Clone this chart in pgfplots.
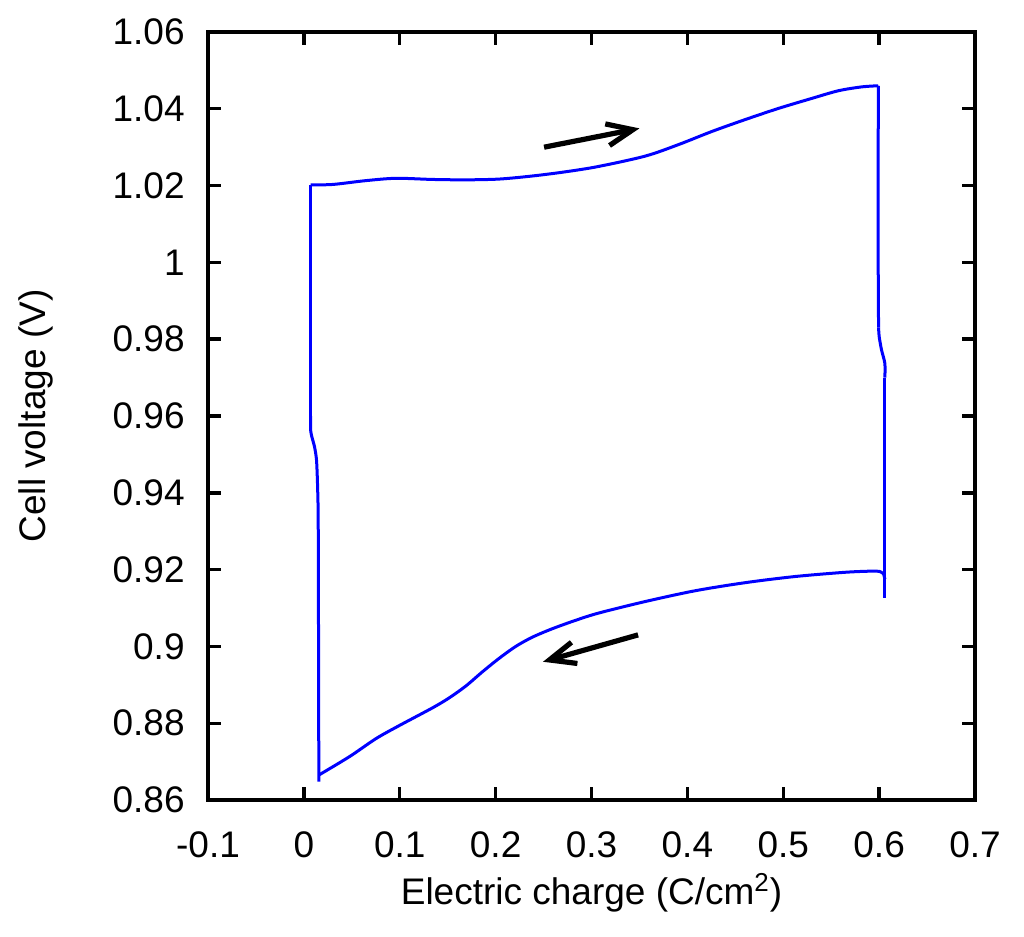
\documentclass[border=0pt]{standalone}
\usepackage{fontspec}
\setmainfont{Liberation Sans}
\usepackage{pgfplots}
\pgfplotsset{compat=1.18}
\usetikzlibrary{arrows.meta}
\begin{document}
\begin{tikzpicture}
\begin{axis}[
  name=ax,
  width=383.5pt, height=384pt, scale only axis,
  xmin=-0.1, xmax=0.7, ymin=0.86, ymax=1.06,
  xtick={-0.1,0,0.1,0.2,0.3,0.4,0.5,0.6,0.7},
  xticklabels={-0.1,0,0.1,0.2,0.3,0.4,0.5,0.6,0.7},
  ytick={0.86,0.88,0.9,0.92,0.94,0.96,0.98,1,1.02,1.04,1.06},
  yticklabels={0.86,0.88,0.9,0.92,0.94,0.96,0.98,1,1.02,1.04,1.06},
  tick align=inside, major tick length=6.5pt,
  axis line style={line width=1.7pt},
  every tick/.style={black, line width=1.7pt},
  font=\fontsize{18.5}{22}\selectfont,
  tick label style={font=\fontsize{18.5}{22}\selectfont},
  xticklabel style={anchor=center, yshift=-22.5pt},
  yticklabel style={anchor=east, inner sep=0pt, xshift=-11.5pt},
  xlabel={Electric charge (C/cm\textsuperscript{2})},
  ylabel={Cell voltage (V)},
  every axis x label/.style={at={(axis description cs:0.5,0)}, anchor=base, yshift=-52pt, font=\fontsize{18.5}{22}\selectfont},
  every axis y label/.style={at={(axis description cs:-0.2125,0.5)}, rotate=90, anchor=base, font=\fontsize{18.5}{22}\selectfont},
]
% left vertical (charge start)
\addplot[blue, line width=1.5pt, line join=round, smooth, tension=0.4] coordinates {
(0.0156,0.8648) (0.0150,0.9300) (0.0143,0.9416) (0.0132,0.9485) (0.0111,0.9520) (0.0083,0.9546) (0.0070,0.9564)
(0.0070,0.9600)
};
\addplot[blue, line width=1.5pt, line join=round] coordinates {(0.0070,0.9600) (0.0070,1.0202)};
% upper branch
\addplot[blue, line width=1.5pt, line join=round, smooth, tension=0.5] coordinates {
(0.0070,1.0202) (0.0302,1.0203) (0.0649,1.0213) (0.0962,1.0219) (0.1342,1.0216) (0.1690,1.0215)
(0.2036,1.0217) (0.2383,1.0225) (0.2731,1.0236) (0.3077,1.0250) (0.3563,1.0277) (0.3910,1.0307)
(0.4256,1.0341) (0.4604,1.0372) (0.4950,1.0401) (0.5297,1.0427) (0.5575,1.0447) (0.5817,1.0457) (0.5991,1.0460)
};
% right vertical
\addplot[blue, line width=1.5pt, line join=round] coordinates {(0.5991,1.0460) (0.5990,1.0000) (0.5994,0.9830)};
\addplot[blue, line width=1.5pt, line join=round, smooth, tension=0.4] coordinates {
(0.5994,0.9830) (0.6001,0.9806) (0.6025,0.9772) (0.6060,0.9737) (0.6060,0.9700)
};
\addplot[blue, line width=1.5pt, line join=round] coordinates {(0.6060,0.9700) (0.6060,0.9126)};
% lower branch
\addplot[blue, line width=1.5pt, line join=round, smooth, tension=0.5] coordinates {
(0.6060,0.9175) (0.6043,0.9190) (0.6008,0.9195) (0.5921,0.9196) (0.5644,0.9193) (0.5124,0.9182) (0.4604,0.9166) (0.4083,0.9145)
(0.3563,0.9117) (0.3077,0.9087) (0.2835,0.9068) (0.2591,0.9046) (0.2383,0.9024) (0.2210,0.9000)
(0.2037,0.8969) (0.1863,0.8934) (0.1690,0.8897) (0.1516,0.8866) (0.1342,0.8840) (0.0996,0.8794) (0.0753,0.8760)
(0.0476,0.8713) (0.0156,0.8665)
};
\addplot[black, line width=2.6pt, -{Straight Barb[length=13pt,width=11pt]}] coordinates {(0.2505,1.0300) (0.3500,1.0349)};
\addplot[black, line width=2.6pt, -{Straight Barb[length=13pt,width=11pt]}] coordinates {(0.3486,0.9030) (0.2494,0.8960)};
\end{axis}
\pgfresetboundingbox
\path ([shift={(-104pt,-68pt)}]ax.south west) rectangle ([shift={(24.5pt,16pt)}]ax.north east);
\end{tikzpicture}
\end{document}
